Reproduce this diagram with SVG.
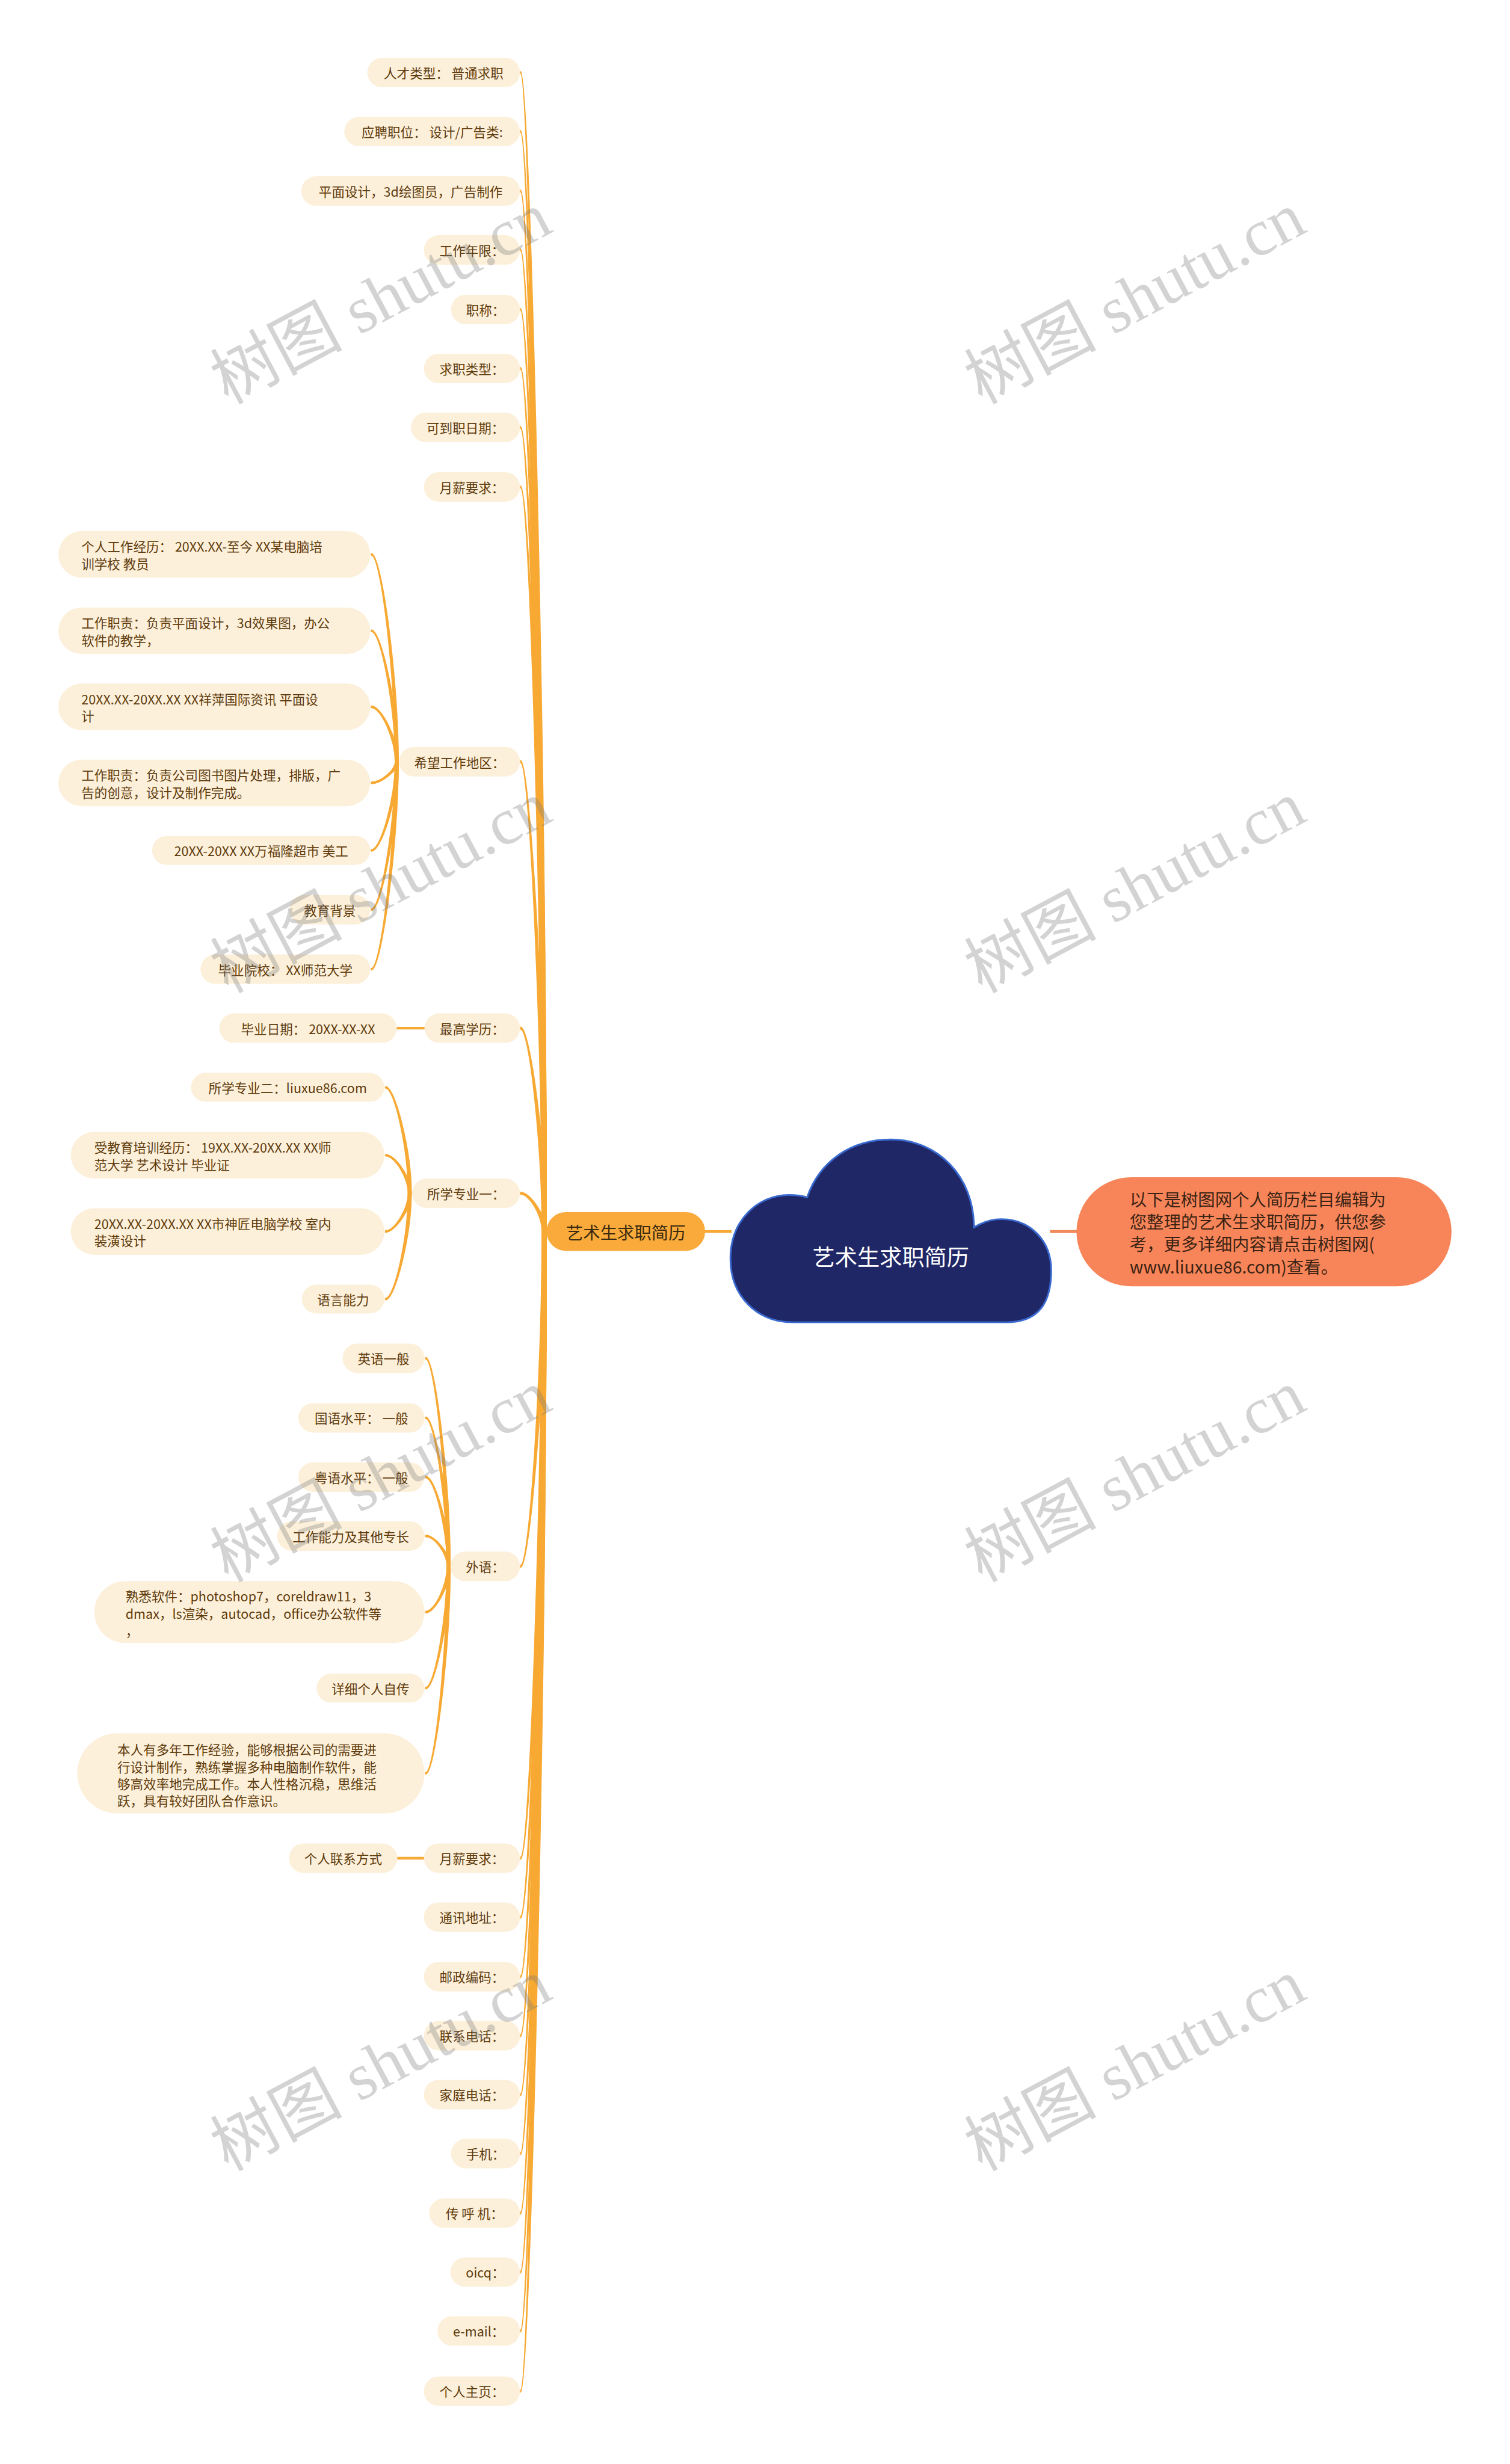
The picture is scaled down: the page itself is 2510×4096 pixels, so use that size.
<svg xmlns="http://www.w3.org/2000/svg" width="2510" height="4096" viewBox="0 0 2510 4096">
<style>
.bg{fill:#FFFFFF}
.n rect{fill:#FDF0DA}
.t{font-family:'Noto Sans CJK SC','Liberation Sans',sans-serif;font-size:22px;fill:#5E3B0C}
.c{text-anchor:middle;dominant-baseline:central}
.l{dominant-baseline:central}
.lk path{fill:#F7A933;stroke:#F7A933;stroke-width:2;stroke-linejoin:round}
.ln{stroke:#F7A933;stroke-width:4.5;fill:none}
.wm{font-family:'Liberation Serif','Noto Sans CJK SC',serif;font-size:112px;fill:#7A7A7A;fill-opacity:0.33;text-anchor:middle;dominant-baseline:central}
</style>
<rect class="bg" x="0" y="0" width="2510" height="4096"/>
<g transform="scale(0.98)">
<g id="connectors" class="lk">
<line class="ln" x1="1194" y1="2089" x2="1241" y2="2089"/>
<line x1="1781" y1="2089" x2="1828" y2="2089" stroke="#F08A5D" stroke-width="5"/>
<line class="ln" x1="671" y1="1744" x2="722" y2="1744"/>
<line class="ln" x1="672" y1="3152" x2="721" y2="3152"/>
<path d="M883,121.4 C899,121.4 926.5,1303 926.5,2089 L919.5,2089 C919.5,1303 899,124.6 883,124.6Z"/>
<path d="M883,221.4 C899,221.4 926.5,1343 926.5,2089 L919.5,2089 C919.5,1343 899,224.6 883,224.6Z"/>
<path d="M883,322.4 C899,322.4 926.5,1383 926.5,2089 L919.5,2089 C919.5,1383 899,325.6 883,325.6Z"/>
<path d="M883,422.4 C899,422.4 926.5,1423 926.5,2089 L919.5,2089 C919.5,1423 899,425.6 883,425.6Z"/>
<path d="M883,523.4 C899,523.4 926.5,1463 926.5,2089 L919.5,2089 C919.5,1463 899,526.6 883,526.6Z"/>
<path d="M883,623.4 C899,623.4 926.5,1503 926.5,2089 L919.5,2089 C919.5,1503 899,626.6 883,626.6Z"/>
<path d="M883,723.4 C899,723.4 926.5,1543 926.5,2089 L919.5,2089 C919.5,1543 899,726.6 883,726.6Z"/>
<path d="M883,824.4 C899,824.4 926.5,1584 926.5,2089 L919.5,2089 C919.5,1584 899,827.6 883,827.6Z"/>
<path d="M883,1290.4 C899,1290.4 926.5,1770 926.5,2089 L919.5,2089 C919.5,1770 899,1293.6 883,1293.6Z"/>
<path d="M883,1742.4 C899,1742.4 926.5,1951 926.5,2089 L919.5,2089 C919.5,1951 899,1745.6 883,1745.6Z"/>
<path d="M883,2022.4 C899,2022.4 926.5,2063 926.5,2089 L919.5,2089 C919.5,2063 899,2025.6 883,2025.6Z"/>
<path d="M883,2658.6 C899,2658.6 926.5,2316 926.5,2089 L919.5,2089 C919.5,2316 899,2655.4 883,2655.4Z"/>
<path d="M883,3153.6 C899,3153.6 926.5,2514 926.5,2089 L919.5,2089 C919.5,2514 899,3150.4 883,3150.4Z"/>
<path d="M883,3253.6 C899,3253.6 926.5,2554 926.5,2089 L919.5,2089 C919.5,2554 899,3250.4 883,3250.4Z"/>
<path d="M883,3354.6 C899,3354.6 926.5,2595 926.5,2089 L919.5,2089 C919.5,2595 899,3351.4 883,3351.4Z"/>
<path d="M883,3454.6 C899,3454.6 926.5,2635 926.5,2089 L919.5,2089 C919.5,2635 899,3451.4 883,3451.4Z"/>
<path d="M883,3554.6 C899,3554.6 926.5,2675 926.5,2089 L919.5,2089 C919.5,2675 899,3551.4 883,3551.4Z"/>
<path d="M883,3654.6 C899,3654.6 926.5,2715 926.5,2089 L919.5,2089 C919.5,2715 899,3651.4 883,3651.4Z"/>
<path d="M883,3755.6 C899,3755.6 926.5,2755 926.5,2089 L919.5,2089 C919.5,2755 899,3752.4 883,3752.4Z"/>
<path d="M883,3855.6 C899,3855.6 926.5,2795 926.5,2089 L919.5,2089 C919.5,2795 899,3852.4 883,3852.4Z"/>
<path d="M883,3955.6 C899,3955.6 926.5,2835 926.5,2089 L919.5,2089 C919.5,2835 899,3952.4 883,3952.4Z"/>
<path d="M883,4057.6 C899,4057.6 926.5,2876 926.5,2089 L919.5,2089 C919.5,2876 899,4054.4 883,4054.4Z"/>
<path d="M630,939.3 C647,939.3 675.5,1151 675.5,1292 L670.5,1292 C670.5,1151 647,941.7 630,941.7Z"/>
<path d="M630,1068.8 C647,1068.8 675.5,1203 675.5,1292 L670.5,1292 C670.5,1203 647,1071.2 630,1071.2Z"/>
<path d="M630,1197.8 C647,1197.8 675.5,1255 675.5,1292 L670.5,1292 C670.5,1255 647,1200.2 630,1200.2Z"/>
<path d="M630,1329.2 C647,1329.2 675.5,1306 675.5,1292 L670.5,1292 C670.5,1306 647,1326.8 630,1326.8Z"/>
<path d="M630,1443.7 C647,1443.7 675.5,1352 675.5,1292 L670.5,1292 C670.5,1352 647,1441.3 630,1441.3Z"/>
<path d="M630,1544.2 C647,1544.2 675.5,1392 675.5,1292 L670.5,1292 C670.5,1392 647,1541.8 630,1541.8Z"/>
<path d="M630,1645.2 C647,1645.2 675.5,1433 675.5,1292 L670.5,1292 C670.5,1433 647,1642.8 630,1642.8Z"/>
<path d="M654,1843.3 C670,1843.3 697.5,1952 697.5,2024 L692.5,2024 C692.5,1952 670,1845.7 654,1845.7Z"/>
<path d="M654,1958.3 C670,1958.3 697.5,1998 697.5,2024 L692.5,2024 C692.5,1998 670,1960.7 654,1960.7Z"/>
<path d="M654,2090.2 C670,2090.2 697.5,2050 697.5,2024 L692.5,2024 C692.5,2050 670,2087.8 654,2087.8Z"/>
<path d="M654,2204.7 C670,2204.7 697.5,2096 697.5,2024 L692.5,2024 C692.5,2096 670,2202.3 654,2202.3Z"/>
<path d="M722,2302.8 C738,2302.8 763.5,2516 763.5,2657 L758.5,2657 C758.5,2516 738,2305.2 722,2305.2Z"/>
<path d="M722,2403.8 C738,2403.8 763.5,2556 763.5,2657 L758.5,2657 C758.5,2556 738,2406.2 722,2406.2Z"/>
<path d="M722,2504.3 C738,2504.3 763.5,2596 763.5,2657 L758.5,2657 C758.5,2596 738,2506.7 722,2506.7Z"/>
<path d="M722,2604.3 C738,2604.3 763.5,2636 763.5,2657 L758.5,2657 C758.5,2636 738,2606.7 722,2606.7Z"/>
<path d="M722,2735.7 C738,2735.7 763.5,2688 763.5,2657 L758.5,2657 C758.5,2688 738,2733.3 722,2733.3Z"/>
<path d="M722,2864.7 C738,2864.7 763.5,2740 763.5,2657 L758.5,2657 C758.5,2740 738,2862.3 722,2862.3Z"/>
<path d="M722,3009.2 C738,3009.2 763.5,2797 763.5,2657 L758.5,2657 C758.5,2797 738,3006.8 722,3006.8Z"/>
</g>

<g id="root">
<path d="M1346,2243 C1285,2243 1239,2200 1239,2135 C1239,2070 1285,2027 1338,2027 C1350,2027 1360,2028 1369,2031 C1390,1970 1443,1933 1511,1933 C1590,1933 1652,1995 1652,2082 C1665,2074 1680,2068 1698,2068 C1748,2068 1783,2105 1783,2155 C1783,2210 1762,2243 1706,2243 Z" fill="#1F2767" stroke="#3A6AD0" stroke-width="3"/>
<text x="1511" y="2131" font-family="'Noto Sans CJK SC','Liberation Sans',sans-serif" font-size="38" fill="#FFFFFF" text-anchor="middle" dominant-baseline="central">艺术生求职简历</text>
</g>

<g id="summary">
<rect x="1826" y="1997" width="636" height="185" rx="92.5" fill="#F78559"/>
<text font-family="'Noto Sans CJK SC','Liberation Sans',sans-serif" font-size="29" fill="#3B2314" dominant-baseline="central">
<tspan x="1916" y="2032.5">以下是树图网个人简历栏目编辑为</tspan>
<tspan x="1916" y="2070.5">您整理的艺术生求职简历，供您参</tspan>
<tspan x="1916" y="2108.5">考，更多详细内容请点击树图网(</tspan>
<tspan x="1916" y="2146.5">www.liuxue86.com)查看。</tspan>
</text>
</g>

<g id="main">
<rect x="927" y="2056" width="269" height="66" rx="33" fill="#F9AA3A"/>
<text x="1061.5" y="2089" font-family="'Noto Sans CJK SC','Liberation Sans',sans-serif" font-size="29" fill="#3A2A10" text-anchor="middle" dominant-baseline="central">艺术生求职简历</text>
</g>

<g id="n1" class="n"><rect x="623" y="98" width="259" height="50" rx="25"/><text class="t c" x="752.5" y="123">人才类型： 普通求职</text></g>
<g id="n2" class="n"><rect x="584" y="198" width="298" height="50" rx="25"/><text class="t c" x="733" y="223">应聘职位： 设计/广告类:</text></g>
<g id="n3" class="n"><rect x="511" y="299" width="371" height="50" rx="25"/><text class="t c" x="696.5" y="324">平面设计，3d绘图员，广告制作</text></g>
<g id="n4" class="n"><rect x="719" y="399" width="163" height="50" rx="25"/><text class="t c" x="800.5" y="424">工作年限：</text></g>
<g id="n5" class="n"><rect x="765" y="500" width="117" height="50" rx="25"/><text class="t c" x="823.5" y="525">职称：</text></g>
<g id="n6" class="n"><rect x="719" y="600" width="163" height="50" rx="25"/><text class="t c" x="800.5" y="625">求职类型：</text></g>
<g id="n7" class="n"><rect x="697" y="700" width="185" height="50" rx="25"/><text class="t c" x="789.5" y="725">可到职日期：</text></g>
<g id="n8" class="n"><rect x="719" y="801" width="163" height="50" rx="25"/><text class="t c" x="800.5" y="826">月薪要求：</text></g>
<g id="n9" class="n"><rect x="677" y="1267" width="205" height="50" rx="25"/><text class="t c" x="779.5" y="1292">希望工作地区：</text></g>
<g id="n10" class="n"><rect x="720" y="1719" width="162" height="50" rx="25"/><text class="t c" x="801" y="1744">最高学历：</text></g>
<g id="n11" class="n"><rect x="699" y="1999" width="183" height="50" rx="25"/><text class="t c" x="790.5" y="2024">所学专业一：</text></g>
<g id="n12" class="n"><rect x="764" y="2632" width="118" height="50" rx="25"/><text class="t c" x="823" y="2657">外语：</text></g>
<g id="n13" class="n"><rect x="719" y="3127" width="163" height="50" rx="25"/><text class="t c" x="800.5" y="3152">月薪要求：</text></g>
<g id="n14" class="n"><rect x="719" y="3227" width="163" height="50" rx="25"/><text class="t c" x="800.5" y="3252">通讯地址：</text></g>
<g id="n15" class="n"><rect x="719" y="3328" width="163" height="50" rx="25"/><text class="t c" x="800.5" y="3353">邮政编码：</text></g>
<g id="n16" class="n"><rect x="719" y="3428" width="163" height="50" rx="25"/><text class="t c" x="800.5" y="3453">联系电话：</text></g>
<g id="n17" class="n"><rect x="719" y="3528" width="163" height="50" rx="25"/><text class="t c" x="800.5" y="3553">家庭电话：</text></g>
<g id="n18" class="n"><rect x="765" y="3628" width="117" height="50" rx="25"/><text class="t c" x="823.5" y="3653">手机：</text></g>
<g id="n19" class="n"><rect x="728" y="3729" width="154" height="50" rx="25"/><text class="t c" x="805" y="3754">传 呼 机：</text></g>
<g id="n20" class="n"><rect x="764" y="3829" width="118" height="50" rx="25"/><text class="t c" x="823" y="3854">oicq：</text></g>
<g id="n21" class="n"><rect x="742" y="3929" width="140" height="50" rx="25"/><text class="t c" x="812" y="3954">e-mail：</text></g>
<g id="n22" class="n"><rect x="719" y="4031" width="163" height="50" rx="25"/><text class="t c" x="800.5" y="4056">个人主页：</text></g>

<g id="b1" class="n"><rect x="99" y="901" width="529" height="79" rx="39.5"/><text class="t l"><tspan x="138" y="926">个人工作经历： 20XX.XX-至今 XX某电脑培</tspan><tspan x="138" y="955">训学校 教员</tspan></text></g>
<g id="b2" class="n"><rect x="99" y="1030.5" width="529" height="79" rx="39.5"/><text class="t l"><tspan x="138" y="1055.5">工作职责：负责平面设计，3d效果图，办公</tspan><tspan x="138" y="1084.5">软件的教学，</tspan></text></g>
<g id="b3" class="n"><rect x="99" y="1159.5" width="529" height="79" rx="39.5"/><text class="t l"><tspan x="138" y="1184.5">20XX.XX-20XX.XX XX祥萍国际资讯 平面设</tspan><tspan x="138" y="1213.5">计</tspan></text></g>
<g id="b4" class="n"><rect x="99" y="1288.5" width="529" height="79" rx="39.5"/><text class="t l"><tspan x="138" y="1313.5">工作职责：负责公司图书图片处理，排版，广</tspan><tspan x="138" y="1342.5">告的创意，设计及制作完成。</tspan></text></g>
<g id="b5" class="n"><rect x="258" y="1418" width="370" height="49" rx="24.5"/><text class="t c" x="443" y="1442.5">20XX-20XX XX万福隆超市 美工</text></g>
<g id="b6" class="n"><rect x="491" y="1518" width="137" height="50" rx="25"/><text class="t c" x="559.5" y="1543">教育背景</text></g>
<g id="b7" class="n"><rect x="340" y="1619" width="288" height="50" rx="25"/><text class="t c" x="484" y="1644">毕业院校： XX师范大学</text></g>

<g id="e1" class="n"><rect x="372" y="1719" width="301" height="50" rx="25"/><text class="t c" x="522.5" y="1744">毕业日期： 20XX-XX-XX</text></g>

<g id="c1" class="n"><rect x="324" y="1820" width="328" height="49" rx="24.5"/><text class="t c" x="488" y="1844.5">所学专业二：liuxue86.com</text></g>
<g id="c2" class="n"><rect x="120" y="1920" width="532" height="79" rx="39.5"/><text class="t l"><tspan x="160" y="1945">受教育培训经历： 19XX.XX-20XX.XX XX师</tspan><tspan x="160" y="1974">范大学 艺术设计 毕业证</tspan></text></g>
<g id="c3" class="n"><rect x="120" y="2049.5" width="532" height="79" rx="39.5"/><text class="t l"><tspan x="160" y="2074.5">20XX.XX-20XX.XX XX市神匠电脑学校 室内</tspan><tspan x="160" y="2103.5">装潢设计</tspan></text></g>
<g id="c4" class="n"><rect x="512" y="2179" width="140" height="49" rx="24.5"/><text class="t c" x="582" y="2203.5">语言能力</text></g>

<g id="d1" class="n"><rect x="581" y="2279" width="139" height="50" rx="25"/><text class="t c" x="650.5" y="2304">英语一般</text></g>
<g id="d2" class="n"><rect x="506" y="2380" width="214" height="50" rx="25"/><text class="t c" x="613" y="2405">国语水平： 一般</text></g>
<g id="d3" class="n"><rect x="506" y="2480.5" width="214" height="50" rx="25"/><text class="t c" x="613" y="2505.5">粤语水平： 一般</text></g>
<g id="d4" class="n"><rect x="470" y="2580.5" width="250" height="50" rx="25"/><text class="t c" x="595" y="2605.5">工作能力及其他专长</text></g>
<g id="d5" class="n"><rect x="160" y="2682" width="560" height="105" rx="52.5"/><text class="t l"><tspan x="213" y="2706">熟悉软件：photoshop7，coreldraw11，3</tspan><tspan x="213" y="2735.5">dmax，ls渲染，autocad，office办公软件等</tspan><tspan x="213" y="2765">，</tspan></text></g>
<g id="d6" class="n"><rect x="537" y="2839" width="183" height="49" rx="24.5"/><text class="t c" x="628.5" y="2863.5">详细个人自传</text></g>
<g id="d7" class="n"><rect x="131" y="2940" width="589" height="136" rx="68"/><text class="t l"><tspan x="199" y="2966.5">本人有多年工作经验，能够根据公司的需要进</tspan><tspan x="199" y="2995.5">行设计制作，熟练掌握多种电脑制作软件，能</tspan><tspan x="199" y="3024.5">够高效率地完成工作。本人性格沉稳，思维活</tspan><tspan x="199" y="3053.5">跃，具有较好团队合作意识。</tspan></text></g>

<g id="f1" class="n"><rect x="490" y="3127" width="184" height="50" rx="25"/><text class="t c" x="582" y="3152">个人联系方式</text></g>

<g id="watermarks">
<text class="wm" transform="translate(646,506) rotate(-28)">树图 shutu.cn</text>
<text class="wm" transform="translate(1925,506) rotate(-28)">树图 shutu.cn</text>
<text class="wm" transform="translate(646,1505) rotate(-28)">树图 shutu.cn</text>
<text class="wm" transform="translate(1925,1505) rotate(-28)">树图 shutu.cn</text>
<text class="wm" transform="translate(646,2504) rotate(-28)">树图 shutu.cn</text>
<text class="wm" transform="translate(1925,2504) rotate(-28)">树图 shutu.cn</text>
<text class="wm" transform="translate(646,3503) rotate(-28)">树图 shutu.cn</text>
<text class="wm" transform="translate(1925,3503) rotate(-28)">树图 shutu.cn</text>
</g>
</g>
</svg>
